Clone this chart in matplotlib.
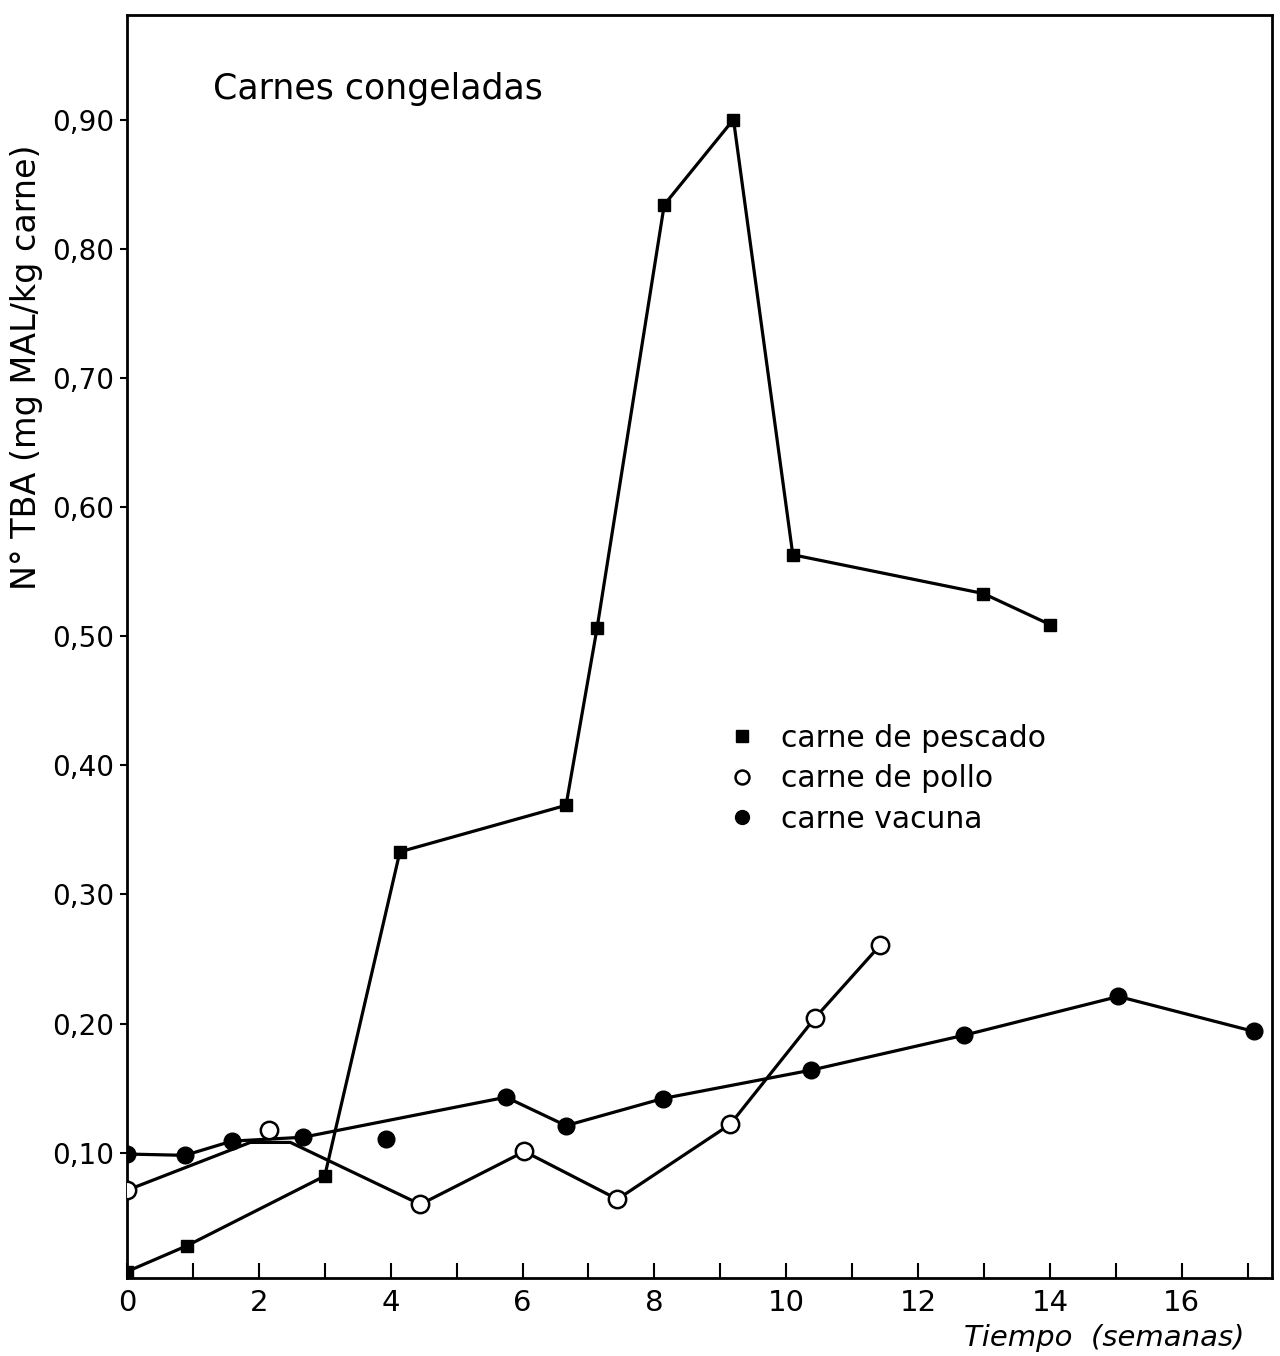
import matplotlib
matplotlib.use("Agg")
import matplotlib.pyplot as plt
from matplotlib.lines import Line2D
from matplotlib.ticker import FixedLocator, FuncFormatter

# TBA de carnes congeladas (mg MAL / kg carne) vs tiempo (semanas)
pescado_x = [0, 0.91, 3.0, 4.14, 6.66, 7.13, 8.15, 9.2, 10.1, 12.99, 14.0]
pescado_y = [0.008, 0.028, 0.082, 0.333, 0.369, 0.506, 0.834, 0.900, 0.563, 0.533, 0.509]

pollo_x = [0, 2.15, 4.45, 6.03, 7.44, 9.15, 10.43, 11.43]
pollo_y = [0.071, 0.118, 0.060, 0.101, 0.064, 0.122, 0.204, 0.261]
# trazo dibujado a mano para pollo (no pasa por el punto de la semana 2)
pollo_trazo_x = [0, 1.87, 2.48, 4.45, 6.03, 7.44, 9.15, 10.43, 11.43]
pollo_trazo_y = [0.071, 0.108, 0.108, 0.060, 0.101, 0.064, 0.122, 0.204, 0.261]

vacuna_x = [0, 0.88, 1.59, 2.67, 3.93, 5.75, 6.66, 8.13, 10.38, 12.7, 15.04, 17.09]
vacuna_y = [0.099, 0.098, 0.109, 0.112, 0.111, 0.143, 0.121, 0.142, 0.164, 0.191, 0.221, 0.194]
vacuna_fuera = [4]  # punto que queda fuera del trazo

yticks = [0.10, 0.20, 0.30, 0.40, 0.50, 0.60, 0.70, 0.80, 0.90]
xticks_lab = [0, 2, 4, 6, 8, 10, 12, 14, 16]

plt.rcParams['font.family'] = ['DejaVu Sans']

fig = plt.figure(figsize=(12.8, 13.56), dpi=100)
ax = fig.add_axes([0.0992, 0.0575, 0.8946, 0.9315])

lw = 2.3
ax.plot(pescado_x, pescado_y, color='black', lw=lw, marker='s', ms=9,
        mfc='black', mec='black', zorder=3)

ax.plot(pollo_trazo_x, pollo_trazo_y, color='black', lw=lw, zorder=2)
ax.plot(pollo_x, pollo_y, ls='none', marker='o', ms=12.5, mfc='white',
        mec='black', mew=1.8, zorder=4)

vac_lx = [x for i, x in enumerate(vacuna_x) if i not in vacuna_fuera]
vac_ly = [y for i, y in enumerate(vacuna_y) if i not in vacuna_fuera]
ax.plot(vac_lx, vac_ly, color='black', lw=lw, zorder=2)
ax.plot(vacuna_x, vacuna_y, ls='none', marker='o', ms=12, mfc='black',
        mec='black', zorder=4)

ax.set_xlim(0, 17.37)
ax.set_ylim(0.003, 0.981)

ax.yaxis.set_major_locator(FixedLocator(yticks))
ax.yaxis.set_major_formatter(FuncFormatter(lambda v, p: f"{v:.2f}".replace('.', ',')))
ax.tick_params(axis='y', direction='out', length=5, width=1.5, labelsize=20, pad=4)

ax.xaxis.set_major_locator(FixedLocator(range(0, 18)))
ax.xaxis.set_major_formatter(FuncFormatter(lambda v, p: f"{int(v)}" if int(v) in xticks_lab else ""))
ax.tick_params(axis='x', direction='in', length=11, width=1.5, labelsize=21, pad=8)

for s in ax.spines.values():
    s.set_linewidth(2)

ax.set_ylabel("N° TBA (mg MAL/kg carne)", fontsize=24)
ax.yaxis.set_label_coords(-0.073, 0.721)
ax.text(0.976, -0.036, "Tiempo  (semanas)", transform=ax.transAxes, ha='right',
        va='top', fontsize=21, style='italic')
ax.text(0.075, 0.955, "Carnes congeladas", transform=ax.transAxes, ha='left',
        va='top', fontsize=25)

handles = [
    Line2D([], [], ls='none', marker='s', ms=8, mfc='black', mec='black'),
    Line2D([], [], ls='none', marker='o', ms=10, mfc='white', mec='black', mew=1.8),
    Line2D([], [], ls='none', marker='o', ms=10, mfc='black', mec='black'),
]
ax.legend(handles, ["carne de pescado", "carne de pollo", "carne vacuna"],
          loc='upper left', bbox_to_anchor=(0.501, 0.46), frameon=False,
          fontsize=21.5, handletextpad=0.8, labelspacing=0.38, handlelength=1.0)

fig.savefig("out.png", dpi=100)
